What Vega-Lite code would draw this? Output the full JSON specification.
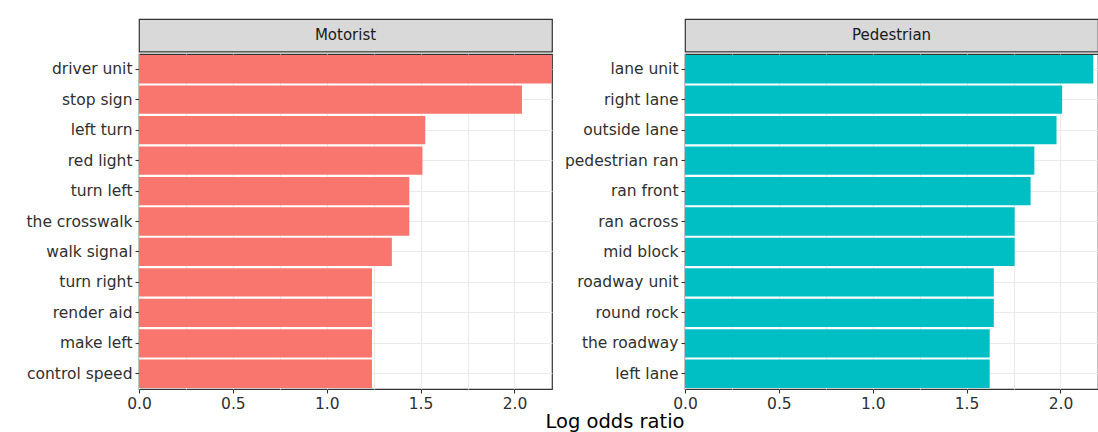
{
  "$schema": "https://vega.github.io/schema/vega-lite/v6.json",
  "data": {"values": [
    {"panel": "Motorist", "bigram": "driver unit", "logratio": 2.2},
    {"panel": "Motorist", "bigram": "stop sign", "logratio": 2.04},
    {"panel": "Motorist", "bigram": "left turn", "logratio": 1.525},
    {"panel": "Motorist", "bigram": "red light", "logratio": 1.51},
    {"panel": "Motorist", "bigram": "turn left", "logratio": 1.44},
    {"panel": "Motorist", "bigram": "the crosswalk", "logratio": 1.44},
    {"panel": "Motorist", "bigram": "walk signal", "logratio": 1.347},
    {"panel": "Motorist", "bigram": "turn right", "logratio": 1.241},
    {"panel": "Motorist", "bigram": "render aid", "logratio": 1.241},
    {"panel": "Motorist", "bigram": "make left", "logratio": 1.241},
    {"panel": "Motorist", "bigram": "control speed", "logratio": 1.241},
    {"panel": "Pedestrian", "bigram": "lane unit", "logratio": 2.175},
    {"panel": "Pedestrian", "bigram": "right lane", "logratio": 2.009},
    {"panel": "Pedestrian", "bigram": "outside lane", "logratio": 1.979},
    {"panel": "Pedestrian", "bigram": "pedestrian ran", "logratio": 1.861},
    {"panel": "Pedestrian", "bigram": "ran front", "logratio": 1.841},
    {"panel": "Pedestrian", "bigram": "ran across", "logratio": 1.756},
    {"panel": "Pedestrian", "bigram": "mid block", "logratio": 1.756},
    {"panel": "Pedestrian", "bigram": "roadway unit", "logratio": 1.645},
    {"panel": "Pedestrian", "bigram": "round rock", "logratio": 1.645},
    {"panel": "Pedestrian", "bigram": "the roadway", "logratio": 1.623},
    {"panel": "Pedestrian", "bigram": "left lane", "logratio": 1.623}
  ]},
  "padding": {"left": 25, "top": 18, "right": 0, "bottom": 0},
  "spacing": 10,
  "title": {"text": "Log odds ratio", "orient": "bottom", "anchor": "middle", "dx": 53, "offset": 1, "fontSize": 19.5, "fontWeight": "normal", "color": "#000000"},
  "hconcat": [
    {
      "spacing": 0,
      "vconcat": [
        {
          "width": 413, "height": 32.5,
          "transform": [
            {"filter": "datum.panel == 'Motorist'"},
            {"aggregate": [{"op": "count", "as": "n"}], "groupby": ["panel"]}
          ],
          "mark": {"type": "text", "fontSize": 15, "color": "#1A1A1A"},
          "encoding": {"text": {"field": "panel", "type": "nominal"}},
          "view": {"fill": "#D9D9D9", "stroke": "#333333", "strokeWidth": 1.2}
        },
        {
          "width": 413, "height": 335,
          "transform": [{"filter": "datum.panel == 'Motorist'"}],
          "mark": {"type": "bar", "color": "#F8766D"},
          "encoding": {
            "y": {"field": "bigram", "type": "nominal",
              "sort": ["driver unit", "stop sign", "left turn", "red light", "turn left", "the crosswalk", "walk signal", "turn right", "render aid", "make left", "control speed"],
              "scale": {"paddingInner": 0.07, "paddingOuter": 0.035},
              "axis": {"title": null, "bandPosition": 0.5}},
            "x": {"field": "logratio", "type": "quantitative",
              "scale": {"domain": [0, 2.2], "nice": false},
              "axis": {"title": null, "labelFlush": false,
                "values": [0, 0.25, 0.5, 0.75, 1, 1.25, 1.5, 1.75, 2],
                "labelExpr": "datum.value % 0.5 == 0 ? format(datum.value, '.1f') : ''",
                "tickOpacity": {"condition": {"test": "datum.value % 0.5 != 0", "value": 0}, "value": 1}}}
          },
          "view": {"stroke": "#333333", "strokeWidth": 1.2}
        }
      ]
    },
    {
      "spacing": 0,
      "vconcat": [
        {
          "width": 413, "height": 32.5,
          "transform": [
            {"filter": "datum.panel == 'Pedestrian'"},
            {"aggregate": [{"op": "count", "as": "n"}], "groupby": ["panel"]}
          ],
          "mark": {"type": "text", "fontSize": 15, "color": "#1A1A1A"},
          "encoding": {"text": {"field": "panel", "type": "nominal"}},
          "view": {"fill": "#D9D9D9", "stroke": "#333333", "strokeWidth": 1.2}
        },
        {
          "width": 413, "height": 335,
          "transform": [{"filter": "datum.panel == 'Pedestrian'"}],
          "mark": {"type": "bar", "color": "#00BFC4"},
          "encoding": {
            "y": {"field": "bigram", "type": "nominal",
              "sort": ["lane unit", "right lane", "outside lane", "pedestrian ran", "ran front", "ran across", "mid block", "roadway unit", "round rock", "the roadway", "left lane"],
              "scale": {"paddingInner": 0.07, "paddingOuter": 0.035},
              "axis": {"title": null, "bandPosition": 0.5}},
            "x": {"field": "logratio", "type": "quantitative",
              "scale": {"domain": [0, 2.2], "nice": false},
              "axis": {"title": null, "labelFlush": false,
                "values": [0, 0.25, 0.5, 0.75, 1, 1.25, 1.5, 1.75, 2],
                "labelExpr": "datum.value % 0.5 == 0 ? format(datum.value, '.1f') : ''",
                "tickOpacity": {"condition": {"test": "datum.value % 0.5 != 0", "value": 0}, "value": 1}}}
          },
          "view": {"stroke": "#333333", "strokeWidth": 1.2}
        }
      ]
    }
  ],
  "config": {
    "font": "DejaVu Sans",
    "background": "white",
    "axis": {
      "domain": false,
      "grid": true,
      "gridColor": "#EBEBEB",
      "gridWidth": 1.1,
      "tickColor": "#333333",
      "tickSize": 4,
      "tickWidth": 1.1,
      "labelColor": "#303030",
      "labelFontSize": 15.5,
      "labelPadding": 3
    }
  }
}
